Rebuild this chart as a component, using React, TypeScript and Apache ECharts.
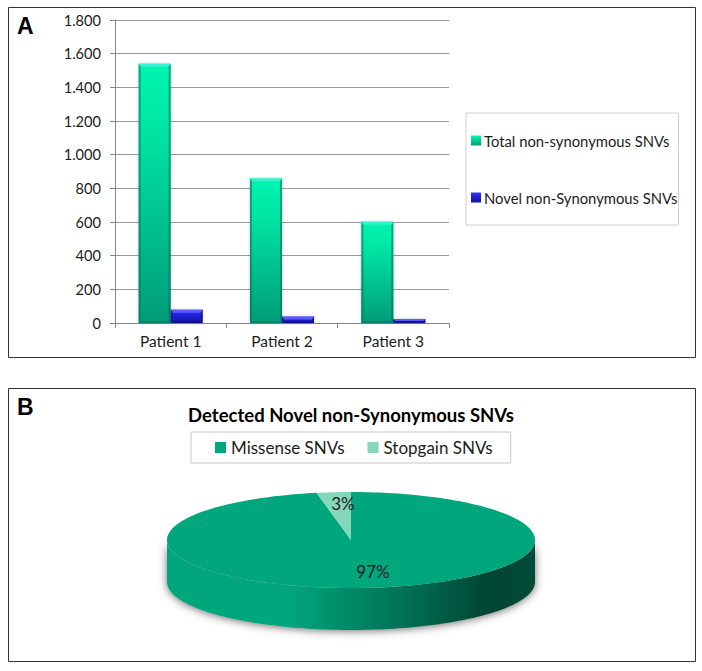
import React, { useEffect, useRef } from "react";
import * as echarts from "echarts";

const patients = ["Patient 1", "Patient 2", "Patient 3"];
const totalSNVs = [1540, 858, 602];
const novelSNVs = [78, 38, 24];
const yTicks = { min: 0, max: 1800, interval: 200 };
const pieNames = ["Missense SNVs", "Stopgain SNVs"];
const pieValues = [97, 3];
const titleB = "Detected Novel non-Synonymous SNVs";

const FONT = "Lato, Carlito, sans-serif";
const BAR_W = 32;
const PIE = { cx: 351, cy: 540, rx: 184, ry: 48, depth: 42 };
const TEXT = "#1c1c1c";

function vGrad(stops: [number, string][]) {
  return new echarts.graphic.LinearGradient(0, 0, 0, 1, stops.map(([offset, color]) => ({ offset, color })));
}

function bevel(offset: number, light: string, dark: string) {
  return (_p: any, api: any) => {
    const [x0, yTop] = api.coord([api.value(0), api.value(1)]);
    const [, yBase] = api.coord([api.value(0), 0]);
    const l = x0 + offset;
    const r = l + BAR_W;
    const t = Math.min(3, (yBase - yTop) / 2);
    return {
      type: "group",
      silent: true,
      children: [
        { type: "polygon", shape: { points: [[l, yTop], [r, yTop], [r - 2, yTop + t], [l + 2, yTop + t]] }, style: { fill: light } },
        { type: "polygon", shape: { points: [[l, yTop], [l + 2, yTop + t], [l + 2, yBase - 2], [l, yBase]] }, style: { fill: dark, opacity: 0.55 } },
        { type: "polygon", shape: { points: [[r, yTop], [r - 2, yTop + t], [r - 2, yBase - 2], [r, yBase]] }, style: { fill: dark, opacity: 0.55 } },
        { type: "polygon", shape: { points: [[l, yBase], [l + 2, yBase - 2], [r - 2, yBase - 2], [r, yBase]] }, style: { fill: dark, opacity: 0.55 } },
      ],
    };
  };
}

function ellipsePt(frac: number, dy = 0) {
  const a = frac * 2 * Math.PI;
  return [PIE.cx + PIE.rx * Math.sin(a), PIE.cy - PIE.ry * Math.cos(a) + dy];
}

function sliceItem(index: number, color: string, labelDx: number, labelDy: number) {
  return (_p: any, api: any) => {
    const total = pieValues.reduce((s, v) => s + v, 0);
    const value = api.value(0);
    const start = pieValues.slice(0, index).reduce((s, v) => s + v, 0) / total;
    const end = start + value / total;
    const pts: number[][] = [[PIE.cx, PIE.cy]];
    for (let i = 0; i <= 240; i++) pts.push(ellipsePt(start + ((end - start) * i) / 240));
    const children: any[] = [];
    if (index === 0) {
      const wall: number[][] = [];
      for (let i = 0; i <= 120; i++) wall.push(ellipsePt(0.25 + (0.5 * i) / 120));
      for (let i = 120; i >= 0; i--) wall.push(ellipsePt(0.25 + (0.5 * i) / 120, PIE.depth));
      children.push({
        type: "polygon",
        shape: { points: wall },
        style: {
          fill: new echarts.graphic.LinearGradient(0, 0, 1, 0, [
            { offset: 0, color: "#00a67c" },
            { offset: 0.33, color: "#00a67c" },
            { offset: 0.62, color: "#007558" },
            { offset: 0.88, color: "#004432" },
            { offset: 1, color: "#004c39" },
          ]),
          shadowBlur: 8,
          shadowColor: "rgba(70,70,70,0.8)",
          shadowOffsetY: 1,
        },
      });
    }
    children.push({ type: "polygon", shape: { points: pts }, style: { fill: color } });
    children.push({
      type: "text",
      z2: 10,
      style: {
        x: PIE.cx + labelDx,
        y: PIE.cy + labelDy,
        text: `${value}%`,
        fill: TEXT,
        font: `17px ${FONT}`,
        align: "center",
        verticalAlign: "middle",
      },
    });
    return { type: "group", children };
  };
}

const greenGrad = () =>
  vGrad([
    [0, "#00f5ae"],
    [0.25, "#00e6a4"],
    [0.7, "#00b98a"],
    [1, "#009c78"],
  ]);
const blueGrad = () =>
  vGrad([
    [0, "#3a3af0"],
    [0.4, "#2121d6"],
    [1, "#15159c"],
  ]);

export default function App() {
  const ref = useRef<HTMLDivElement>(null);
  useEffect(() => {
    document.body.style.background = "#fff";
    const chart = echarts.init(ref.current!, undefined, { renderer: "svg" });
    chart.setOption({
      animation: false,
      backgroundColor: "#fff",
      textStyle: { fontFamily: FONT },
      title: {
        text: titleB,
        left: 346,
        top: 400,
        textAlign: "center",
        textStyle: { fontFamily: FONT, fontSize: 18.5, fontWeight: "bold", color: "#000" },
      },
      graphic: [
        { type: "rect", shape: { x: 8.5, y: 7.5, width: 687, height: 350 }, style: { fill: "none", stroke: "#333", lineWidth: 1 } },
        { type: "rect", shape: { x: 8.5, y: 388.5, width: 687, height: 273 }, style: { fill: "none", stroke: "#333", lineWidth: 1 } },
        { type: "text", style: { x: 17, y: 14, text: "A", fill: "#000", font: `bold 23px "Liberation Sans", Arial, sans-serif` } },
        { type: "text", style: { x: 17, y: 395, text: "B", fill: "#000", font: `bold 23px "Liberation Sans", Arial, sans-serif` } },
      ],
      legend: [
        {
          data: ["Total non-synonymous SNVs", "Novel non-Synonymous SNVs"],
          orient: "vertical",
          left: 466,
          top: 113,
          padding: [20, 1, 20, 5],
          itemGap: 42,
          itemWidth: 10,
          itemHeight: 10,
          icon: "rect",
          selectedMode: false,
          borderColor: "#d0d0d0",
          borderWidth: 1,
          backgroundColor: "#fff",
          textStyle: { fontFamily: FONT, fontSize: 14.8, color: TEXT, padding: [0, 0, 0, -2] },
        },
        {
          data: pieNames,
          orient: "horizontal",
          left: 191,
          top: 432,
          padding: [7, 18, 7, 24],
          itemGap: 23,
          itemWidth: 11,
          itemHeight: 11,
          icon: "rect",
          selectedMode: false,
          borderColor: "#c8c8c8",
          borderWidth: 1,
          backgroundColor: "#fff",
          textStyle: { fontFamily: FONT, fontSize: 17, color: TEXT },
        },
      ],
      grid: { left: 115, top: 20, width: 334, height: 303, containLabel: false },
      xAxis: {
        type: "category",
        data: patients,
        axisLine: { lineStyle: { color: "#868686" } },
        axisTick: { show: true, length: 5, lineStyle: { color: "#868686" } },
        axisLabel: { color: TEXT, fontSize: 15.5, margin: 10, fontFamily: FONT },
      },
      yAxis: {
        type: "value",
        min: yTicks.min,
        max: yTicks.max,
        interval: yTicks.interval,
        axisLine: { show: true, lineStyle: { color: "#868686" } },
        axisTick: { show: true, length: 5, lineStyle: { color: "#868686" } },
        splitLine: { lineStyle: { color: "#9a9a9a" } },
        axisLabel: {
          color: TEXT,
          fontSize: 14.6,
          margin: 14,
          fontFamily: FONT,
          formatter: (v: number) => String(v).replace(/\B(?=(\d{3})+$)/g, "."),
        },
      },
      series: [
        {
          type: "bar",
          name: "Total non-synonymous SNVs",
          data: totalSNVs,
          barWidth: BAR_W,
          barGap: 0,
          itemStyle: { color: greenGrad(), shadowBlur: 3, shadowColor: "rgba(0,0,0,0.25)" },
        },
        {
          type: "bar",
          name: "Novel non-Synonymous SNVs",
          data: novelSNVs,
          barWidth: BAR_W,
          barGap: 0,
          itemStyle: { color: blueGrad(), shadowBlur: 3, shadowColor: "rgba(0,0,0,0.25)" },
        },
        {
          type: "custom",
          name: "bevel-total",
          silent: true,
          z: 3,
          data: totalSNVs.map((v, i) => [i, v]),
          renderItem: bevel(-BAR_W, "#36f0d2", "#00705a"),
        },
        {
          type: "custom",
          name: "bevel-novel",
          silent: true,
          z: 3,
          data: novelSNVs.map((v, i) => [i, v]),
          renderItem: bevel(0, "#5a5aff", "#0c0c70"),
        },
        {
          type: "custom",
          name: pieNames[0],
          coordinateSystem: "none",
          silent: true,
          z: 4,
          itemStyle: { color: "#00a67c" },
          data: [[pieValues[0]]],
          renderItem: sliceItem(0, "#00a67c", 22, 31),
        },
        {
          type: "custom",
          name: pieNames[1],
          coordinateSystem: "none",
          silent: true,
          z: 5,
          itemStyle: { color: "#84d8b8" },
          data: [[pieValues[1]]],
          renderItem: sliceItem(1, "#84d8b8", -8, -37),
        },
      ],
    });
    return () => chart.dispose();
  }, []);
  return (
    <div
      ref={ref}
      style={{ position: "absolute", left: 0, top: 0, width: 702, height: 671 }}
    />
  );
}
